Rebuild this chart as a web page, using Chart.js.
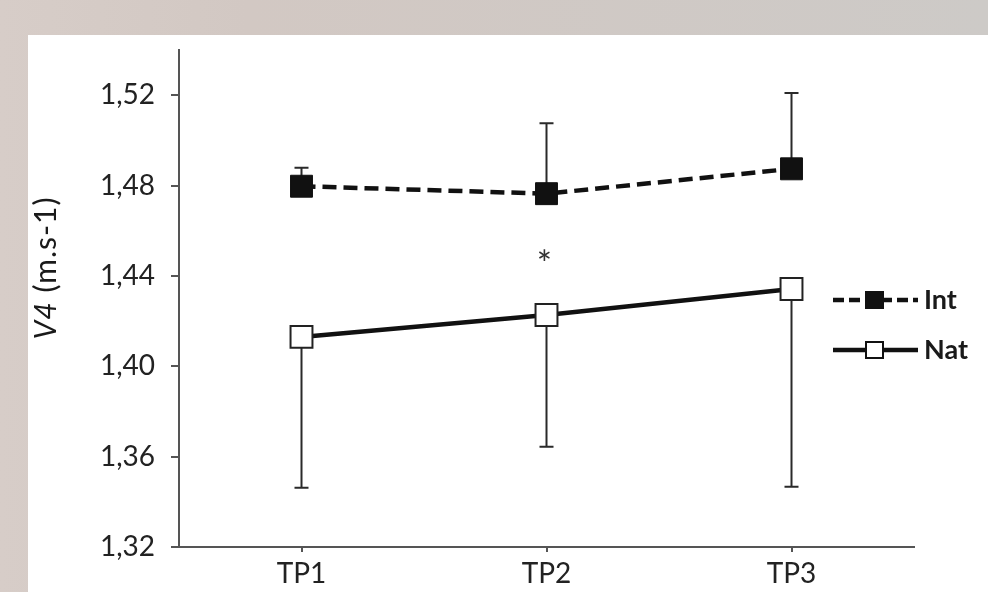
<!DOCTYPE html>
<html>
<head>
<meta charset="utf-8">
<script src="https://cdn.jsdelivr.net/npm/chart.js@4.4.1/dist/chart.umd.min.js"></script>
<style>
  html, body { margin: 0; padding: 0; }
  body {
    width: 988px; height: 592px; overflow: hidden; position: relative;
    background: linear-gradient(to right, #d7cdc8 0, #d2c8c3 25%, #cdcac7 100%);
  }
  #panel { position: absolute; left: 28px; top: 35px; width: 960px; height: 557px; background: #fff; }
  #wrap { position: absolute; left: 0; top: 0; width: 988px; height: 592px; }
</style>
</head>
<body>
<div id="panel"></div>
<div id="wrap"><canvas id="chart" width="988" height="592"></canvas></div>
<script>
// data
const categories = ['TP1', 'TP2', 'TP3'];
const intMean  = [1.4797, 1.4764, 1.4874];
const intUpper = [1.4879, 1.5076, 1.5210];   // top of Int error bars
const natMean  = [1.4130, 1.4227, 1.4342];
const natLower = [1.3462, 1.3644, 1.3467];   // bottom of Nat error bars
const yMin = 1.32, yMax = 1.54, yStep = 0.04;
const starIndex = 1, starValue = 1.448;      // significance mark at TP2

const FONT = 'Lato, "Open Sans", sans-serif';
const AXIS = '#555';
const TEXT = '#222';

const extras = {
  id: 'extras',
  beforeDatasetsDraw(chart) {
    const { ctx, scales: { x, y } } = chart;
    ctx.save();
    ctx.strokeStyle = '#2a2a2a';
    ctx.lineWidth = 2;
    const cap = 7;
    categories.forEach((c, i) => {
      const px = x.getPixelForValue(i);
      [[intMean[i], intUpper[i]], [natMean[i], natLower[i]]].forEach(([m, e]) => {
        const y0 = y.getPixelForValue(m), y1 = y.getPixelForValue(e);
        ctx.beginPath();
        ctx.moveTo(px, y0); ctx.lineTo(px, y1);
        ctx.moveTo(px - cap, y1); ctx.lineTo(px + cap, y1);
        ctx.stroke();
      });
    });
    ctx.restore();
  },
  afterDraw(chart) {
    const { ctx, scales: { x, y } } = chart;
    ctx.save();

    // asterisk
    ctx.fillStyle = '#333';
    ctx.font = '36px ' + FONT;
    ctx.textAlign = 'center';
    ctx.textBaseline = 'middle';
    ctx.fillText('*', x.getPixelForValue(starIndex) - 2, y.getPixelForValue(starValue) + 8);

    // y axis title, "V4" in italics
    ctx.translate(46, 268);
    ctx.rotate(-Math.PI / 2);
    ctx.fillStyle = '#1a1a1a';
    ctx.textAlign = 'left';
    ctx.letterSpacing = '1px';
    const f1 = 'italic 30px ' + FONT, f2 = '30px ' + FONT;
    ctx.font = f1; const w1 = ctx.measureText('V4').width;
    ctx.font = f2; const w2 = ctx.measureText(' (m.s-1)').width;
    let sx = -(w1 + w2) / 2;
    ctx.font = f1; ctx.fillText('V4', sx, 0);
    ctx.font = f2; ctx.fillText(' (m.s-1)', sx + w1, 0);
    ctx.restore();

    // legend
    ctx.save();
    const rows = [300, 350];
    chart.data.datasets.forEach((ds, i) => {
      const ly = rows[i];
      ctx.strokeStyle = ds.borderColor;
      ctx.lineWidth = 4.5;
      ctx.setLineDash(ds.borderDash ? [11, 5] : []);
      ctx.beginPath(); ctx.moveTo(833, ly); ctx.lineTo(918, ly); ctx.stroke();
      ctx.setLineDash([]);
      ctx.fillStyle = ds.pointBackgroundColor;
      ctx.fillRect(866, ly - 8, 17, 16);
      ctx.lineWidth = 2;
      ctx.strokeStyle = '#111';
      ctx.strokeRect(866, ly - 8, 17, 16);
      ctx.fillStyle = '#1a1a1a';
      ctx.font = 'bold 27px ' + FONT;
      ctx.textAlign = 'left';
      ctx.textBaseline = 'middle';
      ctx.fillText(ds.label, 924, ly);
    });
    ctx.restore();
  }
};

new Chart(document.getElementById('chart'), {
  type: 'line',
  data: {
    labels: categories,
    datasets: [
      {
        label: 'Int', data: intMean,
        borderColor: '#111', borderWidth: 4.5, borderDash: [14, 7],
        pointStyle: 'rect', pointRadius: 15.5, pointHoverRadius: 15.5,
        pointBackgroundColor: '#111', pointBorderColor: '#111', pointBorderWidth: 1
      },
      {
        label: 'Nat', data: natMean,
        borderColor: '#111', borderWidth: 4.5,
        pointStyle: 'rect', pointRadius: 15.5, pointHoverRadius: 15.5,
        pointBackgroundColor: '#fff', pointBorderColor: '#222', pointBorderWidth: 2
      }
    ]
  },
  options: {
    responsive: false,
    devicePixelRatio: 1,
    animation: false,
    layout: { padding: { top: 50, right: 74, left: 0, bottom: 0 } },
    plugins: { legend: { display: false }, tooltip: { enabled: false } },
    elements: { line: { tension: 0 } },
    scales: {
      x: {
        type: 'category',
        offset: true,
        grid: { drawOnChartArea: false, offset: false, tickLength: 5, color: AXIS, lineWidth: 2 },
        border: { display: true, color: AXIS, width: 2 },
        ticks: { color: TEXT, font: { family: FONT, size: 28 }, padding: 5 },
        afterFit: s => { s.height = 45; }
      },
      y: {
        min: yMin, max: yMax,
        grid: { drawOnChartArea: false, tickLength: 8, color: AXIS, lineWidth: 2 },
        border: { display: true, color: AXIS, width: 2 },
        ticks: {
          stepSize: yStep,
          color: TEXT, font: { family: FONT, size: 28 }, padding: 16,
          callback: v => v.toFixed(2).replace('.', ',')
        },
        afterBuildTicks: s => {
          s.ticks = s.ticks.filter(t => {
            const k = (t.value - yMin) / yStep;
            return Math.abs(k - Math.round(k)) < 1e-6;
          });
        },
        afterFit: s => { s.width = 179; }
      }
    }
  },
  plugins: [extras]
});
</script>
</body>
</html>
